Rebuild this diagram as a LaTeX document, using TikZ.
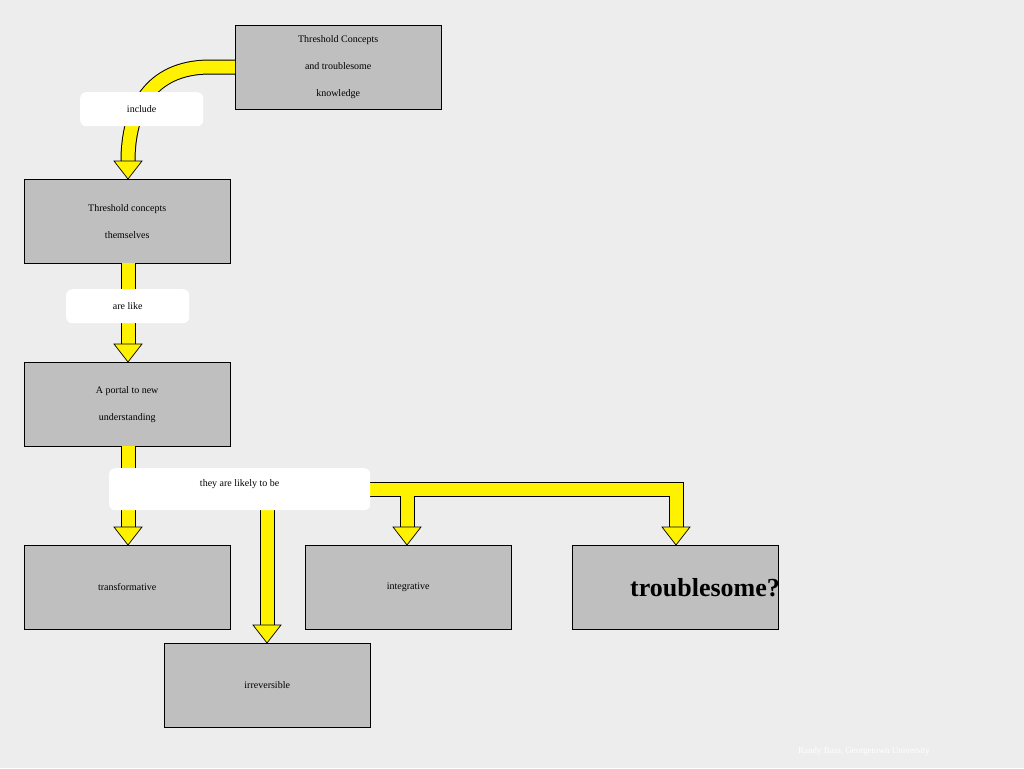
\documentclass[tikz,border=0pt]{standalone}
\usepackage{fontspec}
\setmainfont{Liberation Serif}
\usetikzlibrary{calc}
\begin{document}
\begin{tikzpicture}[x=1pt,y=-1pt,
  box/.style={draw=black,fill=black!25,minimum width=206pt,minimum height=84pt,anchor=north west,inner sep=0pt,font=\fontsize{10}{27}\selectfont,align=center},
  lbl/.style={fill=white,rounded corners=6pt,anchor=north west,inner sep=0pt,font=\fontsize{10}{12}\selectfont},
  shaftout/.style={line width=15pt,draw=black},
  shaftin/.style={line width=13pt,draw=yellow},
  head/.style={fill=yellow,draw=black,line width=0.7pt}]
\fill[black!7] (0,0) rectangle (1024,768);
\useasboundingbox (0,0) rectangle (1024,768);
\node[box] (top) at (235,25) {Threshold Concepts\\and troublesome\\knowledge};
\node[box] (them) at (24,179) {Threshold concepts\\themselves};
\node[box] (portal) at (24,362) {A portal to new\\understanding};
\node[box] (trans) at (24,545) {transformative};
\node[box] (integ) at (305,545) {integrative};
\node[box] (troub) at (572,545) {};
\node[font=\bfseries\fontsize{26}{28}\selectfont] at (705,588) {troublesome?};
\node[box] (irr) at (164,643) {irreversible};
% shafts
\foreach \s in {shaftout,shaftin}{
 \draw[\s] (top.west|-0,67) -- (210,67) .. controls (150,67) and (128,110) .. (128,161);
 \draw[\s] (them.south-|128,0) -- (128,346);
 \draw[\s] (portal.south-|128,0) -- (128,529);
 \draw[\s] (267,500) -- (267,627);
 \draw[\s,line join=miter] (360,489) -| (676,529);
 \draw[\s] (407,489) -- (407,529);
}
% heads
\coordinate (h1) at (them.north-|128,0);
\coordinate (h2) at (portal.north-|128,0);
\coordinate (h3) at (trans.north-|128,0);
\coordinate (h4) at (irr.north-|267,0);
\coordinate (h5) at (integ.north-|407,0);
\coordinate (h6) at (troub.north-|676,0);
\foreach \h in {h1,h2,h3,h4,h5,h6}{
 \draw[head] ($(\h)+(-14,-18)$) -- ($(\h)+(14,-18)$) -- (\h) -- cycle;
}
% labels
\node[lbl,minimum width=123pt,minimum height=34pt] (l1) at (80,92) {include};
\node[lbl,minimum width=123pt,minimum height=34pt] (l2) at (66,289) {are like};
\node[lbl,minimum width=261pt,minimum height=42pt,text depth=12pt] (l3) at (109,468) {they are likely to be};
\node[text=white,font=\fontsize{9}{10}\selectfont] (ft) at (864,751) {Randy Bass, Georgetown University};
\end{tikzpicture}
\end{document}
